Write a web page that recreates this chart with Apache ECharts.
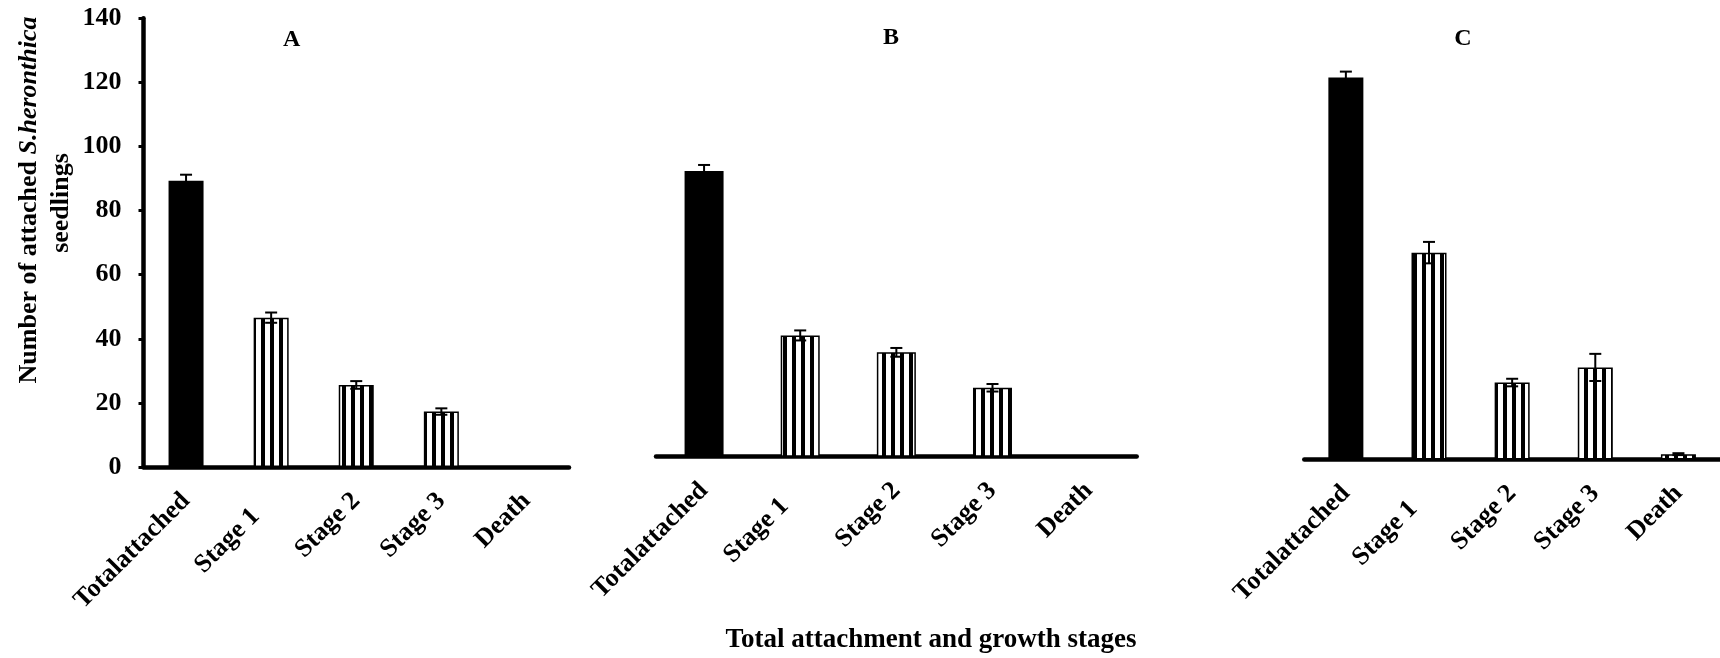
<!DOCTYPE html>
<html>
<head>
<meta charset="utf-8">
<script src="https://cdn.jsdelivr.net/npm/echarts@6/dist/echarts.min.js"></script>
<style>
  html, body { margin: 0; padding: 0; background: #fff; }
  #chart { width: 1720px; height: 658px; }
</style>
</head>
<body>
<div id="chart"></div>
<script>
// Categories shared by the three panels
const categories = ['Totalattached', 'Stage 1', 'Stage 2', 'Stage 3', 'Death'];
const panelTitles = ['A', 'B', 'C'];

// Mean number of attached seedlings and standard errors per panel
const meansA = [89.3, 46.6, 25.6, 17.3, 0];
const errA   = [1.9, 1.6, 1.2, 1.0, 0];
const meansB = [91.2, 38.7, 33.3, 22.0, 0];
const errB   = [1.9, 1.6, 1.4, 1.2, 0];
const meansC = [121.1, 65.6, 24.4, 29.2, 1.7];
const errC   = [1.9, 3.4, 1.2, 4.3, 0.3];

// Value axis range
const yMin = 0, yMax = 140, yStep = 20;

const yName1 = 'Number of attached ';
const yName2 = 'S.heronthica';
const yName3 = 'seedlings';
const xName = 'Total attachment and growth stages';

const FONT = '"Liberation Serif", "Times New Roman", serif';

// Vertical stripe fill for the growth-stage bars
const stripe = document.createElement('canvas');
stripe.width = 9; stripe.height = 4;
const sctx = stripe.getContext('2d');
sctx.fillStyle = '#fff'; sctx.fillRect(0, 0, 9, 4);
sctx.fillStyle = '#000'; sctx.fillRect(0, 0, 4, 4);
const stripeFill = { image: stripe, repeat: 'repeat' };

const panels = [
  { means: meansA, errs: errA, grid: { left: 143.5, top: 18.3, width: 425.5, height: 448.7 }, barWidth: 35, title: [291.7, 40] },
  { means: meansB, errs: errB, grid: { left: 656, top: 18, width: 480.7, height: 438.7 }, barWidth: 39, title: [891, 37.5] },
  { means: meansC, errs: errC, grid: { left: 1304.3, top: 18, width: 420.5, height: 441.5 }, barWidth: 35, title: [1463, 39] }
];

const catText = { color: '#000', fontFamily: FONT, fontWeight: 'bold', fontSize: 26 };
const tickText = { color: '#000', fontFamily: FONT, fontWeight: 'bold', fontSize: 26 };

const grids = [], xAxes = [], yAxes = [], series = [], graphics = [];

panels.forEach((p, idx) => {
  grids.push(Object.assign({ containLabel: false }, p.grid));

  xAxes.push({
    type: 'category', gridIndex: idx, data: categories,
    axisLine: { show: true, lineStyle: { color: '#000', width: 4.5 } },
    axisTick: { show: false },
    axisLabel: Object.assign({
      interval: 0, rotate: 45, margin: 30,
      formatter: v => v === 'Stage 1' ? '{p|' + v + '}' : v,
      rich: { p: Object.assign({ padding: [0, 22, 0, 0] }, catText) }
    }, catText),
    splitLine: { show: false }
  });

  yAxes.push({
    type: 'value', gridIndex: idx, min: yMin, max: yMax, interval: yStep,
    show: idx === 0,
    axisLine: { show: true, lineStyle: { color: '#000', width: 4.5 } },
    axisTick: { show: true, length: 5, lineStyle: { color: '#000', width: 3 } },
    axisLabel: Object.assign({ margin: 22 }, tickText),
    splitLine: { show: false }
  });

  series.push({
    type: 'bar', xAxisIndex: idx, yAxisIndex: idx, barWidth: p.barWidth,
    data: p.means.map((v, i) => ({
      value: v,
      itemStyle: i === 0
        ? { color: '#000', borderWidth: 0 }
        : { color: stripeFill, borderColor: '#000', borderWidth: 1.5 }
    })),
    animation: false
  });

  // Error bars (mean ± SE) with caps
  series.push({
    type: 'custom', xAxisIndex: idx, yAxisIndex: idx, z: 10,
    data: p.means.map((m, i) => [i, m - p.errs[i], m + p.errs[i], p.errs[i]]),
    encode: { x: 0, y: [1, 2] },
    renderItem: (params, api) => {
      if (api.value(3) === 0) return { type: 'group', children: [] };
      const lo = api.coord([api.value(0), api.value(1)]);
      const hi = api.coord([api.value(0), api.value(2)]);
      const h = 6;
      const st = { stroke: '#000', lineWidth: 2 };
      return {
        type: 'group', children: [
          { type: 'line', shape: { x1: hi[0], y1: hi[1], x2: lo[0], y2: lo[1] }, style: st },
          { type: 'line', shape: { x1: hi[0] - h, y1: hi[1], x2: hi[0] + h, y2: hi[1] }, style: st },
          { type: 'line', shape: { x1: lo[0] - h, y1: lo[1], x2: lo[0] + h, y2: lo[1] }, style: st }
        ]
      };
    },
    animation: false
  });

  graphics.push({
    type: 'text', x: p.title[0], y: p.title[1],
    style: { text: panelTitles[idx], align: 'center', verticalAlign: 'middle', fill: '#000', font: 'bold 24px ' + FONT }
  });
});

// Value-axis name, two lines reading bottom to top
graphics.push({
  type: 'text', x: 29, y: 200, rotation: Math.PI / 2,
  style: {
    text: '{n|' + yName1 + '}{i|' + yName2 + '}',
    align: 'center', verticalAlign: 'middle',
    rich: {
      n: { fill: '#000', fontFamily: FONT, fontWeight: 'bold', fontSize: 26 },
      i: { fill: '#000', fontFamily: FONT, fontWeight: 'bold', fontStyle: 'italic', fontSize: 26 }
    }
  }
});
graphics.push({
  type: 'text', x: 61, y: 203, rotation: Math.PI / 2,
  style: { text: yName3, align: 'center', verticalAlign: 'middle', fill: '#000', font: 'bold 26px ' + FONT }
});

// Shared category-axis name
graphics.push({
  type: 'text', x: 931, y: 640,
  style: { text: xName, align: 'center', verticalAlign: 'middle', fill: '#000', font: 'bold 27px ' + FONT }
});

const chart = echarts.init(document.getElementById('chart'), null, { renderer: 'canvas' });
chart.setOption({
  backgroundColor: '#fff',
  animation: false,
  grid: grids,
  xAxis: xAxes,
  yAxis: yAxes,
  series: series,
  graphic: graphics
});
</script>
</body>
</html>
